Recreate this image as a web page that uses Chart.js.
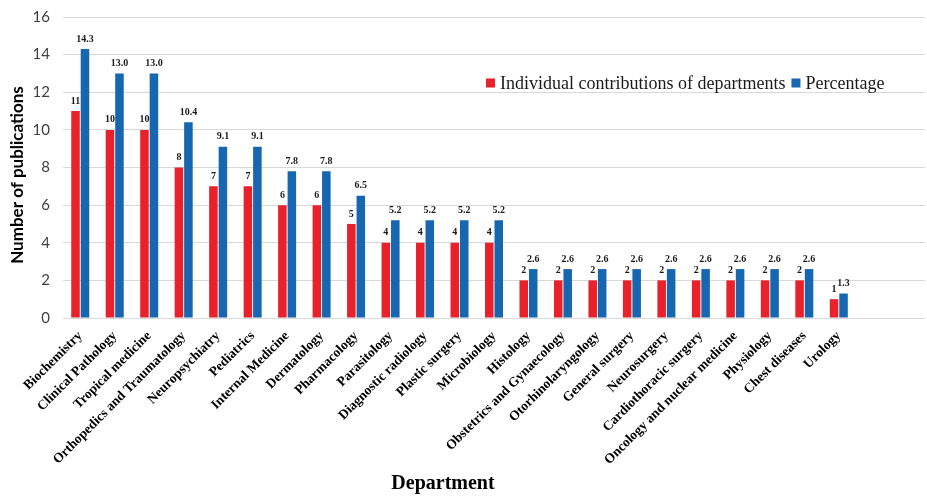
<!DOCTYPE html>
<html>
<head>
<meta charset="utf-8">
<script src="https://cdn.jsdelivr.net/npm/chart.js@4.4.0/dist/chart.umd.min.js"></script>
<style>
  html, body { margin: 0; padding: 0; background: #ffffff; }
  #wrap { position: relative; width: 927px; height: 496px; }
</style>
</head>
<body>
<div id="wrap"><canvas id="c"></canvas></div>
<script>
// ---- Data ----
const departments = [
  'Biochemistry', 'Clinical Pathology', 'Tropical medicine', 'Orthopedics and Traumatology',
  'Neuropsychiatry', 'Pediatrics', 'Internal Medicine', 'Dermatology', 'Pharmacology',
  'Parasitology', 'Diagnostic radiology', 'Plastic surgery', 'Microbiology', 'Histology',
  'Obstetrics and Gynaecology', 'Otorhinolaryngology', 'General surgery', 'Neurosurgery',
  'Cardiothoracic surgery', 'Oncology and nuclear medicine', 'Physiology', 'Chest diseases', 'Urology'
];
const contributions = [11, 10, 10, 8, 7, 7, 6, 6, 5, 4, 4, 4, 4, 2, 2, 2, 2, 2, 2, 2, 2, 2, 1];
const percentages = [14.3, 13.0, 13.0, 10.4, 9.1, 9.1, 7.8, 7.8, 6.5, 5.2, 5.2, 5.2, 5.2, 2.6, 2.6, 2.6, 2.6, 2.6, 2.6, 2.6, 2.6, 2.6, 1.3];
const seriesNames = ['Individual contributions of departments', 'Percentage'];
const yTicks = [0, 2, 4, 6, 8, 10, 12, 14, 16];
const xTitle = 'Department';
const yTitle = 'Number of publications';

const RED = '#E8212A';
const BLUE = '#1766B0';
const SERIF = '"Liberation Serif", "Times New Roman", serif';
const SANS = 'Lato, "Open Sans", sans-serif';

// The original axis keeps two blank category slots after the last department
const axisLabels = departments.concat(['', '']);

const dataLabelPlugin = {
  id: 'dataLabels',
  afterDatasetsDraw(chart) {
    const ctx = chart.ctx;
    ctx.save();
    ctx.font = 'bold 10px ' + SERIF;
    ctx.fillStyle = '#1a1a1a';
    ctx.textAlign = 'center';
    ctx.textBaseline = 'bottom';
    chart.data.datasets.forEach((ds, di) => {
      const meta = chart.getDatasetMeta(di);
      meta.data.forEach((el, i) => {
        const v = ds.data[i];
        if (v == null) return;
        const txt = di === 1 ? v.toFixed(1) : String(v);
        ctx.fillText(txt, el.x, el.y - 5);
      });
    });
    ctx.restore();
  }
};

const extrasPlugin = {
  id: 'extras',
  afterDraw(chart) {
    const ctx = chart.ctx;
    const a = chart.chartArea;
    ctx.save();
    // legend
    ctx.font = '18px ' + SERIF;
    ctx.textBaseline = 'middle';
    ctx.textAlign = 'left';
    let x = a.left + 423;
    const y = a.top + 66;
    const colors = [RED, BLUE];
    seriesNames.forEach((name, i) => {
      ctx.fillStyle = colors[i];
      ctx.fillRect(x, y - 4.5, 9, 9);
      ctx.fillStyle = '#1a1a1a';
      ctx.fillText(name, x + 14, y + 1);
      x += 14 + ctx.measureText(name).width + 6;
    });
    // x title
    ctx.font = 'bold 20px ' + SERIF;
    ctx.fillStyle = '#000';
    ctx.textAlign = 'center';
    ctx.textBaseline = 'middle';
    ctx.fillText(xTitle, a.left + 380, 484);
    // y title
    ctx.save();
    ctx.translate(18, 175);
    ctx.rotate(-Math.PI / 2);
    ctx.font = 'bold 17px ' + SANS;
    ctx.fillText(yTitle, 0, 0);
    ctx.restore();
    ctx.restore();
  }
};

new Chart(document.getElementById('c'), {
  type: 'bar',
  data: {
    labels: axisLabels,
    datasets: [
      { label: seriesNames[0], data: contributions, backgroundColor: RED,
        barPercentage: 0.9, categoryPercentage: 0.55 },
      { label: seriesNames[1], data: percentages, backgroundColor: BLUE,
        barPercentage: 0.9, categoryPercentage: 0.55 }
    ]
  },
  options: {
    responsive: true,
    maintainAspectRatio: false,
    animation: false,
    layout: { padding: { top: 17, right: 2, left: 0, bottom: 0 } },
    plugins: { legend: { display: false }, tooltip: { enabled: false } },
    scales: {
      x: {
        grid: { display: false },
        border: { display: false },
        ticks: {
          autoSkip: false, maxRotation: 45, minRotation: 45, padding: 2,
          color: '#000', font: { family: SERIF, size: 13.5, weight: 'bold' }
        },
        afterFit(s) { s.height = 178; s.paddingLeft = 0; s.paddingRight = 0; }
      },
      y: {
        min: 0, max: 16,
        afterBuildTicks(s) { s.ticks = yTicks.map(v => ({ value: v })); },
        grid: { color: '#d9d9d9', lineWidth: 1, drawTicks: false },
        border: { display: false },
        ticks: { padding: 13, color: '#404040', font: { family: SANS, size: 15 } },
        afterFit(s) { s.width = 63; s.paddingTop = 0; s.paddingBottom = 0; }
      }
    }
  },
  plugins: [dataLabelPlugin, extrasPlugin]
});
</script>
</body>
</html>
